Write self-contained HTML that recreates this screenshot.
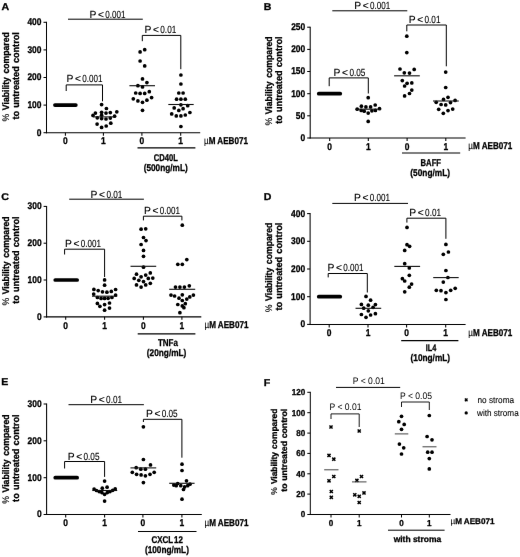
<!DOCTYPE html>
<html><head><meta charset="utf-8"><title>Figure</title>
<style>html,body{margin:0;padding:0;background:#fff;}svg{display:block;will-change:transform;}text{text-rendering:geometricPrecision;font-family:'Liberation Sans', sans-serif;fill:#000;}text[font-weight=bold]{stroke:#000;stroke-width:0.3px;}</style>
</head><body>
<svg width="520" height="557" viewBox="0 0 520 557">
<rect width="520" height="557" fill="#fff"/>
<defs><filter id="soft" x="0" y="0" width="520" height="557" filterUnits="userSpaceOnUse"><feConvolveMatrix order="3" kernelMatrix="0 0.03 0 0.03 0.88 0.03 0 0.03 0" divisor="1" edgeMode="duplicate" preserveAlpha="false"/></filter></defs>
<g filter="url(#soft)">
<!-- Panel A -->
<text transform="translate(1.5,10.2) scale(1.08,1)" font-size="9.8" font-weight="bold" text-anchor="start">A</text>
<line x1="46.5" y1="21.775000000000002" x2="46.5" y2="133.225" stroke="#000" stroke-width="1.05" stroke-linecap="butt"/>
<line x1="45.975" y1="132.7" x2="200.2" y2="132.7" stroke="#000" stroke-width="1.05" stroke-linecap="butt"/>
<line x1="43.5" y1="132.7" x2="46.5" y2="132.7" stroke="#000" stroke-width="1.05" stroke-linecap="butt"/>
<text transform="translate(41.5,135.6) scale(0.86,1)" font-size="9.8" font-weight="bold" text-anchor="end">0</text>
<line x1="43.5" y1="105.1" x2="46.5" y2="105.1" stroke="#000" stroke-width="1.05" stroke-linecap="butt"/>
<text transform="translate(41.5,108.0) scale(0.86,1)" font-size="9.8" font-weight="bold" text-anchor="end">100</text>
<line x1="43.5" y1="77.5" x2="46.5" y2="77.5" stroke="#000" stroke-width="1.05" stroke-linecap="butt"/>
<text transform="translate(41.5,80.4) scale(0.86,1)" font-size="9.8" font-weight="bold" text-anchor="end">200</text>
<line x1="43.5" y1="49.9" x2="46.5" y2="49.9" stroke="#000" stroke-width="1.05" stroke-linecap="butt"/>
<text transform="translate(41.5,52.8) scale(0.86,1)" font-size="9.8" font-weight="bold" text-anchor="end">300</text>
<line x1="43.5" y1="22.3" x2="46.5" y2="22.3" stroke="#000" stroke-width="1.05" stroke-linecap="butt"/>
<text transform="translate(41.5,25.2) scale(0.86,1)" font-size="9.8" font-weight="bold" text-anchor="end">400</text>
<line x1="65.4" y1="132.7" x2="65.4" y2="135.7" stroke="#000" stroke-width="1.05" stroke-linecap="butt"/>
<text transform="translate(65.4,144.39999999999998) scale(0.86,1)" font-size="9.8" font-weight="bold" text-anchor="middle">0</text>
<line x1="103.4" y1="132.7" x2="103.4" y2="135.7" stroke="#000" stroke-width="1.05" stroke-linecap="butt"/>
<text transform="translate(103.4,144.39999999999998) scale(0.86,1)" font-size="9.8" font-weight="bold" text-anchor="middle">1</text>
<line x1="141.9" y1="132.7" x2="141.9" y2="135.7" stroke="#000" stroke-width="1.05" stroke-linecap="butt"/>
<text transform="translate(141.9,144.39999999999998) scale(0.86,1)" font-size="9.8" font-weight="bold" text-anchor="middle">0</text>
<line x1="180.7" y1="132.7" x2="180.7" y2="135.7" stroke="#000" stroke-width="1.05" stroke-linecap="butt"/>
<text transform="translate(180.7,144.39999999999998) scale(0.86,1)" font-size="9.8" font-weight="bold" text-anchor="middle">1</text>
<text transform="translate(8.6,121.4) rotate(-90)" font-size="9.5" font-weight="bold" word-spacing="1.3" text-anchor="start" textLength="89.2" lengthAdjust="spacingAndGlyphs"><tspan font-weight="normal" stroke-width="0.12">%</tspan> Viability compared</text>
<text transform="translate(18.9,119.6) rotate(-90)" font-size="9.5" font-weight="bold" word-spacing="0.7" text-anchor="start" textLength="87.4" lengthAdjust="spacingAndGlyphs">to untreated control</text>
<line x1="54.95000000000001" y1="105.1" x2="75.85000000000001" y2="105.1" stroke="#000" stroke-width="3.7" stroke-linecap="round"/>
<g fill="#000"><circle cx="101.6" cy="104.6" r="1.85"/><circle cx="106.4" cy="108.5" r="1.85"/><circle cx="116.8" cy="111.8" r="1.85"/><circle cx="101.6" cy="112.3" r="1.85"/><circle cx="106" cy="113.1" r="1.85"/><circle cx="110.3" cy="112.6" r="1.85"/><circle cx="95.4" cy="113.1" r="1.85"/><circle cx="93" cy="115.4" r="1.85"/><circle cx="101.6" cy="115.2" r="1.85"/><circle cx="114.6" cy="116.2" r="1.85"/><circle cx="97.3" cy="117.8" r="1.85"/><circle cx="101.6" cy="118.6" r="1.85"/><circle cx="106" cy="119" r="1.85"/><circle cx="110.3" cy="118.1" r="1.85"/><circle cx="110.8" cy="123.2" r="1.85"/><circle cx="97.1" cy="124.1" r="1.85"/><circle cx="106.2" cy="126" r="1.85"/><circle cx="101.6" cy="127.4" r="1.85"/></g>
<line x1="93" y1="116.9" x2="114" y2="116.9" stroke="#111" stroke-width="1.1"/>
<g fill="#000"><circle cx="144.7" cy="49.7" r="1.85"/><circle cx="140.1" cy="51.9" r="1.85"/><circle cx="140.1" cy="61" r="1.85"/><circle cx="144.7" cy="65.9" r="1.85"/><circle cx="142.5" cy="78.9" r="1.85"/><circle cx="146.9" cy="82.6" r="1.85"/><circle cx="137.9" cy="85.7" r="1.85"/><circle cx="142.5" cy="86.9" r="1.85"/><circle cx="149.3" cy="91.7" r="1.85"/><circle cx="135.7" cy="93" r="1.85"/><circle cx="140.1" cy="93.4" r="1.85"/><circle cx="144.7" cy="93.4" r="1.85"/><circle cx="151.6" cy="97.6" r="1.85"/><circle cx="133.3" cy="98.8" r="1.85"/><circle cx="146.9" cy="100.2" r="1.85"/><circle cx="137.9" cy="100.9" r="1.85"/><circle cx="142.5" cy="102.3" r="1.85"/><circle cx="142.5" cy="110.3" r="1.85"/></g>
<line x1="129.4" y1="85.7" x2="155" y2="85.7" stroke="#111" stroke-width="1.1"/>
<g fill="#000"><circle cx="180.9" cy="75" r="1.85"/><circle cx="180.9" cy="84" r="1.85"/><circle cx="178.8" cy="93" r="1.85"/><circle cx="183.1" cy="93" r="1.85"/><circle cx="176.6" cy="99.2" r="1.85"/><circle cx="180.9" cy="99.2" r="1.85"/><circle cx="185.3" cy="99.2" r="1.85"/><circle cx="180.9" cy="104.8" r="1.85"/><circle cx="187.7" cy="105.7" r="1.85"/><circle cx="174.2" cy="107.9" r="1.85"/><circle cx="183.1" cy="108.7" r="1.85"/><circle cx="178.8" cy="110.4" r="1.85"/><circle cx="189.9" cy="112.5" r="1.85"/><circle cx="171.7" cy="113.9" r="1.85"/><circle cx="185.3" cy="115" r="1.85"/><circle cx="176.3" cy="115.9" r="1.85"/><circle cx="180.9" cy="115.9" r="1.85"/><circle cx="180.9" cy="126.5" r="1.85"/></g>
<line x1="168.3" y1="104.5" x2="193.7" y2="104.5" stroke="#111" stroke-width="1.1"/>
<line x1="68" y1="19.2" x2="142.8" y2="19.2" stroke="#000" stroke-width="1.0" stroke-linecap="butt"/>
<text y="18.2" font-size="10.3" text-anchor="start" stroke="#000" stroke-width="0.12"><tspan x="89.5">P</tspan><tspan x="98.0">&lt;</tspan><tspan x="105.3" textLength="20.2" lengthAdjust="spacingAndGlyphs">0.001</tspan></text>
<path d="M66.2 91L66.2 84.9L102.5 84.9L102.5 101.3" stroke="#000" stroke-width="1.0" fill="none"/>
<text y="82.3" font-size="10.3" text-anchor="start" stroke="#000" stroke-width="0.12"><tspan x="66.4">P</tspan><tspan x="74.9">&lt;</tspan><tspan x="82.2" textLength="20.2" lengthAdjust="spacingAndGlyphs">0.001</tspan></text>
<path d="M142.3 41.2L142.3 35.4L180.8 35.4L180.8 69.2" stroke="#000" stroke-width="1.0" fill="none"/>
<text y="33.3" font-size="10.3" text-anchor="start" stroke="#000" stroke-width="0.12"><tspan x="144.5">P</tspan><tspan x="153.0">&lt;</tspan><tspan x="160.3" textLength="16.0" lengthAdjust="spacingAndGlyphs">0.01</tspan></text>
<text x="204" y="143.6" font-size="9.8" font-weight="bold" text-anchor="start" textLength="44" lengthAdjust="spacingAndGlyphs"><tspan font-weight="normal" stroke-width="0.1">&#181;</tspan>M AEB071</text>
<line x1="137.5" y1="147.9" x2="195.4" y2="147.9" stroke="#000" stroke-width="1.2" stroke-linecap="butt"/>
<text x="165.8" y="160.8" font-size="9.8" font-weight="bold" text-anchor="middle" textLength="24" lengthAdjust="spacingAndGlyphs">CD40L</text>
<text x="165.7" y="171.1" font-size="9.8" font-weight="bold" text-anchor="middle" textLength="44" lengthAdjust="spacingAndGlyphs">(500ng/mL)</text>
<!-- Panel B -->
<text transform="translate(263.8,10.2) scale(1.08,1)" font-size="9.8" font-weight="bold" text-anchor="start">B</text>
<line x1="310.2" y1="26.675" x2="310.2" y2="138.525" stroke="#000" stroke-width="1.05" stroke-linecap="butt"/>
<line x1="309.675" y1="138.0" x2="465.6" y2="138.0" stroke="#000" stroke-width="1.05" stroke-linecap="butt"/>
<line x1="307.2" y1="138.0" x2="310.2" y2="138.0" stroke="#000" stroke-width="1.05" stroke-linecap="butt"/>
<text transform="translate(305.2,140.9) scale(0.86,1)" font-size="9.8" font-weight="bold" text-anchor="end">0</text>
<line x1="307.2" y1="115.8" x2="310.2" y2="115.8" stroke="#000" stroke-width="1.05" stroke-linecap="butt"/>
<text transform="translate(305.2,118.7) scale(0.86,1)" font-size="9.8" font-weight="bold" text-anchor="end">50</text>
<line x1="307.2" y1="93.7" x2="310.2" y2="93.7" stroke="#000" stroke-width="1.05" stroke-linecap="butt"/>
<text transform="translate(305.2,96.60000000000001) scale(0.86,1)" font-size="9.8" font-weight="bold" text-anchor="end">100</text>
<line x1="307.2" y1="71.5" x2="310.2" y2="71.5" stroke="#000" stroke-width="1.05" stroke-linecap="butt"/>
<text transform="translate(305.2,74.4) scale(0.86,1)" font-size="9.8" font-weight="bold" text-anchor="end">150</text>
<line x1="307.2" y1="49.4" x2="310.2" y2="49.4" stroke="#000" stroke-width="1.05" stroke-linecap="butt"/>
<text transform="translate(305.2,52.3) scale(0.86,1)" font-size="9.8" font-weight="bold" text-anchor="end">200</text>
<line x1="307.2" y1="27.2" x2="310.2" y2="27.2" stroke="#000" stroke-width="1.05" stroke-linecap="butt"/>
<text transform="translate(305.2,30.099999999999998) scale(0.86,1)" font-size="9.8" font-weight="bold" text-anchor="end">250</text>
<line x1="329.7" y1="138.0" x2="329.7" y2="141.0" stroke="#000" stroke-width="1.05" stroke-linecap="butt"/>
<text transform="translate(329.7,149.7) scale(0.86,1)" font-size="9.8" font-weight="bold" text-anchor="middle">0</text>
<line x1="368.3" y1="138.0" x2="368.3" y2="141.0" stroke="#000" stroke-width="1.05" stroke-linecap="butt"/>
<text transform="translate(368.3,149.7) scale(0.86,1)" font-size="9.8" font-weight="bold" text-anchor="middle">1</text>
<line x1="407.1" y1="138.0" x2="407.1" y2="141.0" stroke="#000" stroke-width="1.05" stroke-linecap="butt"/>
<text transform="translate(407.1,149.7) scale(0.86,1)" font-size="9.8" font-weight="bold" text-anchor="middle">0</text>
<line x1="445.8" y1="138.0" x2="445.8" y2="141.0" stroke="#000" stroke-width="1.05" stroke-linecap="butt"/>
<text transform="translate(445.8,149.7) scale(0.86,1)" font-size="9.8" font-weight="bold" text-anchor="middle">1</text>
<text transform="translate(272.0,125.6) rotate(-90)" font-size="9.5" font-weight="bold" word-spacing="1.3" text-anchor="start" textLength="89.2" lengthAdjust="spacingAndGlyphs"><tspan font-weight="normal" stroke-width="0.12">%</tspan> Viability compared</text>
<text transform="translate(281.7,123.8) rotate(-90)" font-size="9.5" font-weight="bold" word-spacing="0.7" text-anchor="start" textLength="87.4" lengthAdjust="spacingAndGlyphs">to untreated control</text>
<line x1="318.75" y1="93.7" x2="340.25" y2="93.7" stroke="#000" stroke-width="3.7" stroke-linecap="round"/>
<g fill="#000"><circle cx="368.2" cy="97.7" r="1.85"/><circle cx="375.2" cy="105" r="1.85"/><circle cx="361.4" cy="106.2" r="1.85"/><circle cx="365.9" cy="106.9" r="1.85"/><circle cx="370.6" cy="106.9" r="1.85"/><circle cx="357.2" cy="109.2" r="1.85"/><circle cx="379.5" cy="108.7" r="1.85"/><circle cx="361.2" cy="110.4" r="1.85"/><circle cx="364.2" cy="111.2" r="1.85"/><circle cx="368.2" cy="113.1" r="1.85"/><circle cx="371.9" cy="110.8" r="1.85"/><circle cx="375.4" cy="110.4" r="1.85"/><circle cx="368.2" cy="121.4" r="1.85"/></g>
<line x1="355.4" y1="109.2" x2="381.2" y2="109.2" stroke="#111" stroke-width="1.1"/>
<g fill="#000"><circle cx="406.8" cy="36.2" r="1.85"/><circle cx="406.8" cy="52.6" r="1.85"/><circle cx="400" cy="69" r="1.85"/><circle cx="414.2" cy="69.4" r="1.85"/><circle cx="404.3" cy="72.8" r="1.85"/><circle cx="409.5" cy="73.1" r="1.85"/><circle cx="402.3" cy="80.6" r="1.85"/><circle cx="411.8" cy="82.9" r="1.85"/><circle cx="407.1" cy="83.3" r="1.85"/><circle cx="404.6" cy="86" r="1.85"/><circle cx="411.8" cy="90.1" r="1.85"/><circle cx="409.5" cy="93.5" r="1.85"/><circle cx="404.6" cy="95.9" r="1.85"/></g>
<line x1="394.1" y1="75.8" x2="419.8" y2="75.8" stroke="#111" stroke-width="1.1"/>
<g fill="#000"><circle cx="445.7" cy="72.1" r="1.85"/><circle cx="445.7" cy="87.5" r="1.85"/><circle cx="448" cy="97.3" r="1.85"/><circle cx="443.5" cy="99.4" r="1.85"/><circle cx="455.1" cy="100.4" r="1.85"/><circle cx="436.2" cy="102.3" r="1.85"/><circle cx="450.5" cy="102.6" r="1.85"/><circle cx="441.1" cy="104.5" r="1.85"/><circle cx="445.7" cy="104.9" r="1.85"/><circle cx="438.7" cy="109.3" r="1.85"/><circle cx="452.7" cy="109.1" r="1.85"/><circle cx="448" cy="110.6" r="1.85"/><circle cx="443.3" cy="113.3" r="1.85"/></g>
<line x1="433" y1="101" x2="458.8" y2="101" stroke="#111" stroke-width="1.1"/>
<line x1="332.3" y1="10.8" x2="407.3" y2="10.8" stroke="#000" stroke-width="1.0" stroke-linecap="butt"/>
<text y="9.2" font-size="10.3" text-anchor="start" stroke="#000" stroke-width="0.12"><tspan x="354.2">P</tspan><tspan x="362.7">&lt;</tspan><tspan x="370.0" textLength="20.2" lengthAdjust="spacingAndGlyphs">0.001</tspan></text>
<path d="M329.2 86.2L329.2 77.9L368.3 77.9L368.3 93.5" stroke="#000" stroke-width="1.0" fill="none"/>
<text y="75.7" font-size="10.3" text-anchor="start" stroke="#000" stroke-width="0.12"><tspan x="333.6">P</tspan><tspan x="342.1">&lt;</tspan><tspan x="349.4" textLength="16.0" lengthAdjust="spacingAndGlyphs">0.05</tspan></text>
<path d="M406.8 31.3L406.8 25L446.3 25L446.3 66.3" stroke="#000" stroke-width="1.0" fill="none"/>
<text y="22.8" font-size="10.3" text-anchor="start" stroke="#000" stroke-width="0.12"><tspan x="408.7">P</tspan><tspan x="417.2">&lt;</tspan><tspan x="424.5" textLength="16.0" lengthAdjust="spacingAndGlyphs">0.01</tspan></text>
<text x="468.3" y="149.3" font-size="9.8" font-weight="bold" text-anchor="start" textLength="44" lengthAdjust="spacingAndGlyphs"><tspan font-weight="normal" stroke-width="0.1">&#181;</tspan>M AEB071</text>
<line x1="402" y1="153" x2="460.2" y2="153" stroke="#000" stroke-width="1.2" stroke-linecap="butt"/>
<text x="430.8" y="166.4" font-size="9.8" font-weight="bold" text-anchor="middle" textLength="20.4" lengthAdjust="spacingAndGlyphs">BAFF</text>
<text x="430.2" y="176.4" font-size="9.8" font-weight="bold" text-anchor="middle" textLength="39.7" lengthAdjust="spacingAndGlyphs">(50ng/mL)</text>
<!-- Panel C -->
<text transform="translate(1.3,199.7) scale(1.08,1)" font-size="9.8" font-weight="bold" text-anchor="start">C</text>
<line x1="46.6" y1="205.875" x2="46.6" y2="317.375" stroke="#000" stroke-width="1.05" stroke-linecap="butt"/>
<line x1="46.075" y1="316.85" x2="201.3" y2="316.85" stroke="#000" stroke-width="1.05" stroke-linecap="butt"/>
<line x1="43.6" y1="316.9" x2="46.6" y2="316.9" stroke="#000" stroke-width="1.05" stroke-linecap="butt"/>
<text transform="translate(41.6,319.79999999999995) scale(0.86,1)" font-size="9.8" font-weight="bold" text-anchor="end">0</text>
<line x1="43.6" y1="280.0" x2="46.6" y2="280.0" stroke="#000" stroke-width="1.05" stroke-linecap="butt"/>
<text transform="translate(41.6,282.9) scale(0.86,1)" font-size="9.8" font-weight="bold" text-anchor="end">100</text>
<line x1="43.6" y1="243.2" x2="46.6" y2="243.2" stroke="#000" stroke-width="1.05" stroke-linecap="butt"/>
<text transform="translate(41.6,246.1) scale(0.86,1)" font-size="9.8" font-weight="bold" text-anchor="end">200</text>
<line x1="43.6" y1="206.4" x2="46.6" y2="206.4" stroke="#000" stroke-width="1.05" stroke-linecap="butt"/>
<text transform="translate(41.6,209.3) scale(0.86,1)" font-size="9.8" font-weight="bold" text-anchor="end">300</text>
<line x1="65.7" y1="316.85" x2="65.7" y2="319.85" stroke="#000" stroke-width="1.05" stroke-linecap="butt"/>
<text transform="translate(65.7,328.55) scale(0.86,1)" font-size="9.8" font-weight="bold" text-anchor="middle">0</text>
<line x1="104.6" y1="316.85" x2="104.6" y2="319.85" stroke="#000" stroke-width="1.05" stroke-linecap="butt"/>
<text transform="translate(104.6,328.55) scale(0.86,1)" font-size="9.8" font-weight="bold" text-anchor="middle">1</text>
<line x1="143.4" y1="316.85" x2="143.4" y2="319.85" stroke="#000" stroke-width="1.05" stroke-linecap="butt"/>
<text transform="translate(143.4,328.55) scale(0.86,1)" font-size="9.8" font-weight="bold" text-anchor="middle">0</text>
<line x1="181.9" y1="316.85" x2="181.9" y2="319.85" stroke="#000" stroke-width="1.05" stroke-linecap="butt"/>
<text transform="translate(181.9,328.55) scale(0.86,1)" font-size="9.8" font-weight="bold" text-anchor="middle">1</text>
<text transform="translate(9.2,305.6) rotate(-90)" font-size="9.5" font-weight="bold" word-spacing="1.3" text-anchor="start" textLength="89.2" lengthAdjust="spacingAndGlyphs"><tspan font-weight="normal" stroke-width="0.12">%</tspan> Viability compared</text>
<text transform="translate(19.1,303.8) rotate(-90)" font-size="9.5" font-weight="bold" word-spacing="0.7" text-anchor="start" textLength="87.4" lengthAdjust="spacingAndGlyphs">to untreated control</text>
<line x1="55.25000000000001" y1="280.0" x2="77.15" y2="280.0" stroke="#000" stroke-width="3.7" stroke-linecap="round"/>
<g fill="#000"><circle cx="104.6" cy="279.9" r="1.85"/><circle cx="104.6" cy="285.2" r="1.85"/><circle cx="93.9" cy="289.4" r="1.85"/><circle cx="115.6" cy="289.5" r="1.85"/><circle cx="98.2" cy="290.6" r="1.85"/><circle cx="111.3" cy="291.4" r="1.85"/><circle cx="102.5" cy="291.8" r="1.85"/><circle cx="106.9" cy="292.2" r="1.85"/><circle cx="93.7" cy="294.1" r="1.85"/><circle cx="115.6" cy="295.1" r="1.85"/><circle cx="97.4" cy="297.5" r="1.85"/><circle cx="101.1" cy="298.4" r="1.85"/><circle cx="104.6" cy="298.4" r="1.85"/><circle cx="108.1" cy="298.3" r="1.85"/><circle cx="111.9" cy="297.5" r="1.85"/><circle cx="109.5" cy="303" r="1.85"/><circle cx="97.4" cy="303.4" r="1.85"/><circle cx="104.6" cy="304.6" r="1.85"/><circle cx="99.9" cy="306.3" r="1.85"/><circle cx="109.5" cy="308.1" r="1.85"/><circle cx="104.6" cy="310.2" r="1.85"/></g>
<line x1="92" y1="296.2" x2="117.2" y2="296.2" stroke="#111" stroke-width="1.1"/>
<g fill="#000"><circle cx="141.1" cy="229.2" r="1.85"/><circle cx="145.7" cy="228.8" r="1.85"/><circle cx="143.5" cy="237.5" r="1.85"/><circle cx="146" cy="240.6" r="1.85"/><circle cx="141.1" cy="244.5" r="1.85"/><circle cx="143.5" cy="250.4" r="1.85"/><circle cx="143.5" cy="256.3" r="1.85"/><circle cx="143.5" cy="267.2" r="1.85"/><circle cx="150.3" cy="272.9" r="1.85"/><circle cx="136.5" cy="274.2" r="1.85"/><circle cx="145.7" cy="275.1" r="1.85"/><circle cx="141.1" cy="276.8" r="1.85"/><circle cx="134.2" cy="278.4" r="1.85"/><circle cx="148.3" cy="278.4" r="1.85"/><circle cx="152.8" cy="278.1" r="1.85"/><circle cx="138.8" cy="280.3" r="1.85"/><circle cx="143.5" cy="281.6" r="1.85"/><circle cx="150.3" cy="283.3" r="1.85"/><circle cx="136.5" cy="284.9" r="1.85"/><circle cx="145.7" cy="284.9" r="1.85"/><circle cx="141.1" cy="287.1" r="1.85"/></g>
<line x1="130.5" y1="266.3" x2="156.2" y2="266.3" stroke="#111" stroke-width="1.1"/>
<g fill="#000"><circle cx="182.3" cy="225.2" r="1.85"/><circle cx="186.8" cy="259.6" r="1.85"/><circle cx="177.8" cy="264.3" r="1.85"/><circle cx="182.3" cy="264.3" r="1.85"/><circle cx="189.3" cy="285.8" r="1.85"/><circle cx="175.5" cy="287.1" r="1.85"/><circle cx="179.9" cy="287.1" r="1.85"/><circle cx="184.4" cy="287.1" r="1.85"/><circle cx="171" cy="295.1" r="1.85"/><circle cx="174.6" cy="296" r="1.85"/><circle cx="182.3" cy="294.8" r="1.85"/><circle cx="193.4" cy="295.1" r="1.85"/><circle cx="189.8" cy="296.9" r="1.85"/><circle cx="179" cy="298.2" r="1.85"/><circle cx="186.8" cy="299.1" r="1.85"/><circle cx="182.3" cy="300.5" r="1.85"/><circle cx="177.8" cy="304.5" r="1.85"/><circle cx="185.3" cy="303.7" r="1.85"/><circle cx="182.3" cy="305.9" r="1.85"/><circle cx="183.9" cy="307.7" r="1.85"/><circle cx="179.9" cy="312.7" r="1.85"/></g>
<line x1="169.2" y1="289.3" x2="195.2" y2="289.3" stroke="#111" stroke-width="1.1"/>
<line x1="69.2" y1="199.2" x2="143.9" y2="199.2" stroke="#000" stroke-width="1.0" stroke-linecap="butt"/>
<text y="198" font-size="10.3" text-anchor="start" stroke="#000" stroke-width="0.12"><tspan x="90.6">P</tspan><tspan x="99.1">&lt;</tspan><tspan x="106.4" textLength="16.0" lengthAdjust="spacingAndGlyphs">0.01</tspan></text>
<path d="M64.6 254.5L64.6 249.2L104.6 249.2L104.6 277" stroke="#000" stroke-width="1.0" fill="none"/>
<text y="247.3" font-size="10.3" text-anchor="start" stroke="#000" stroke-width="0.12"><tspan x="65.0">P</tspan><tspan x="73.5">&lt;</tspan><tspan x="80.8" textLength="20.2" lengthAdjust="spacingAndGlyphs">0.001</tspan></text>
<path d="M143.4 220.4L143.4 216.2L181.9 216.2L181.9 220.4" stroke="#000" stroke-width="1.0" fill="none"/>
<text y="213.6" font-size="10.3" text-anchor="start" stroke="#000" stroke-width="0.12"><tspan x="144.0">P</tspan><tspan x="152.5">&lt;</tspan><tspan x="159.8" textLength="20.2" lengthAdjust="spacingAndGlyphs">0.001</tspan></text>
<text x="204.5" y="328" font-size="9.8" font-weight="bold" text-anchor="start" textLength="44" lengthAdjust="spacingAndGlyphs"><tspan font-weight="normal" stroke-width="0.1">&#181;</tspan>M AEB071</text>
<line x1="137.7" y1="333.8" x2="195.4" y2="333.8" stroke="#000" stroke-width="1.2" stroke-linecap="butt"/>
<text x="167.9" y="346.1" font-size="9.8" font-weight="bold" text-anchor="middle" textLength="20" lengthAdjust="spacingAndGlyphs">TNFa</text>
<text x="166.6" y="355.7" font-size="9.8" font-weight="bold" text-anchor="middle" textLength="39.5" lengthAdjust="spacingAndGlyphs">(20ng/mL)</text>
<!-- Panel D -->
<text transform="translate(263.8,199.7) scale(1.08,1)" font-size="9.8" font-weight="bold" text-anchor="start">D</text>
<line x1="310.1" y1="213.075" x2="310.1" y2="324.92499999999995" stroke="#000" stroke-width="1.05" stroke-linecap="butt"/>
<line x1="309.57500000000005" y1="324.4" x2="465.6" y2="324.4" stroke="#000" stroke-width="1.05" stroke-linecap="butt"/>
<line x1="307.1" y1="324.4" x2="310.1" y2="324.4" stroke="#000" stroke-width="1.05" stroke-linecap="butt"/>
<text transform="translate(305.1,327.29999999999995) scale(0.86,1)" font-size="9.8" font-weight="bold" text-anchor="end">0</text>
<line x1="307.1" y1="296.7" x2="310.1" y2="296.7" stroke="#000" stroke-width="1.05" stroke-linecap="butt"/>
<text transform="translate(305.1,299.59999999999997) scale(0.86,1)" font-size="9.8" font-weight="bold" text-anchor="end">100</text>
<line x1="307.1" y1="269.0" x2="310.1" y2="269.0" stroke="#000" stroke-width="1.05" stroke-linecap="butt"/>
<text transform="translate(305.1,271.9) scale(0.86,1)" font-size="9.8" font-weight="bold" text-anchor="end">200</text>
<line x1="307.1" y1="241.3" x2="310.1" y2="241.3" stroke="#000" stroke-width="1.05" stroke-linecap="butt"/>
<text transform="translate(305.1,244.20000000000002) scale(0.86,1)" font-size="9.8" font-weight="bold" text-anchor="end">300</text>
<line x1="307.1" y1="213.6" x2="310.1" y2="213.6" stroke="#000" stroke-width="1.05" stroke-linecap="butt"/>
<text transform="translate(305.1,216.5) scale(0.86,1)" font-size="9.8" font-weight="bold" text-anchor="end">400</text>
<line x1="329.2" y1="324.4" x2="329.2" y2="327.4" stroke="#000" stroke-width="1.05" stroke-linecap="butt"/>
<text transform="translate(329.2,336.09999999999997) scale(0.86,1)" font-size="9.8" font-weight="bold" text-anchor="middle">0</text>
<line x1="368" y1="324.4" x2="368" y2="327.4" stroke="#000" stroke-width="1.05" stroke-linecap="butt"/>
<text transform="translate(368,336.09999999999997) scale(0.86,1)" font-size="9.8" font-weight="bold" text-anchor="middle">1</text>
<line x1="406.6" y1="324.4" x2="406.6" y2="327.4" stroke="#000" stroke-width="1.05" stroke-linecap="butt"/>
<text transform="translate(406.6,336.09999999999997) scale(0.86,1)" font-size="9.8" font-weight="bold" text-anchor="middle">0</text>
<line x1="445.7" y1="324.4" x2="445.7" y2="327.4" stroke="#000" stroke-width="1.05" stroke-linecap="butt"/>
<text transform="translate(445.7,336.09999999999997) scale(0.86,1)" font-size="9.8" font-weight="bold" text-anchor="middle">1</text>
<text transform="translate(272.0,312.2) rotate(-90)" font-size="9.5" font-weight="bold" word-spacing="1.3" text-anchor="start" textLength="89.6" lengthAdjust="spacingAndGlyphs"><tspan font-weight="normal" stroke-width="0.12">%</tspan> Viability compared</text>
<text transform="translate(281.7,310.6) rotate(-90)" font-size="9.5" font-weight="bold" word-spacing="0.7" text-anchor="start" textLength="88" lengthAdjust="spacingAndGlyphs">to untreated control</text>
<line x1="318.75" y1="296.7" x2="340.25" y2="296.7" stroke="#000" stroke-width="3.7" stroke-linecap="round"/>
<g fill="#000"><circle cx="366" cy="296.4" r="1.85"/><circle cx="370.6" cy="300.2" r="1.85"/><circle cx="361.4" cy="304.4" r="1.85"/><circle cx="368.3" cy="305.2" r="1.85"/><circle cx="375.4" cy="304.6" r="1.85"/><circle cx="363.7" cy="308.2" r="1.85"/><circle cx="373.1" cy="307.3" r="1.85"/><circle cx="368.3" cy="310.8" r="1.85"/><circle cx="361.4" cy="314.5" r="1.85"/><circle cx="375.4" cy="313.7" r="1.85"/><circle cx="370.6" cy="315" r="1.85"/><circle cx="366" cy="317.3" r="1.85"/></g>
<line x1="355.5" y1="308.3" x2="381.2" y2="308.3" stroke="#111" stroke-width="1.1"/>
<g fill="#000"><circle cx="407" cy="227.4" r="1.85"/><circle cx="407" cy="244.7" r="1.85"/><circle cx="409.6" cy="246.3" r="1.85"/><circle cx="404.7" cy="250.4" r="1.85"/><circle cx="404.7" cy="263.7" r="1.85"/><circle cx="409.3" cy="267.9" r="1.85"/><circle cx="409.3" cy="275.3" r="1.85"/><circle cx="402.4" cy="278.7" r="1.85"/><circle cx="404.7" cy="281" r="1.85"/><circle cx="411.6" cy="284.1" r="1.85"/><circle cx="409.3" cy="287.2" r="1.85"/><circle cx="404.7" cy="291.8" r="1.85"/></g>
<line x1="394.3" y1="266.4" x2="420.1" y2="266.4" stroke="#111" stroke-width="1.1"/>
<g fill="#000"><circle cx="445.9" cy="244.4" r="1.85"/><circle cx="448.4" cy="252" r="1.85"/><circle cx="443.3" cy="254.3" r="1.85"/><circle cx="445.9" cy="270.5" r="1.85"/><circle cx="447.9" cy="277.5" r="1.85"/><circle cx="443.3" cy="282.1" r="1.85"/><circle cx="436.3" cy="290.3" r="1.85"/><circle cx="441" cy="290.7" r="1.85"/><circle cx="450.7" cy="290.3" r="1.85"/><circle cx="455.2" cy="288.3" r="1.85"/><circle cx="445.9" cy="292.6" r="1.85"/><circle cx="445.9" cy="299.5" r="1.85"/></g>
<line x1="433.2" y1="277.6" x2="458.7" y2="277.6" stroke="#111" stroke-width="1.1"/>
<line x1="332.3" y1="203.4" x2="408" y2="203.4" stroke="#000" stroke-width="1.0" stroke-linecap="butt"/>
<text y="201.1" font-size="10.3" text-anchor="start" stroke="#000" stroke-width="0.12"><tspan x="354.0">P</tspan><tspan x="362.5">&lt;</tspan><tspan x="369.8" textLength="20.2" lengthAdjust="spacingAndGlyphs">0.001</tspan></text>
<path d="M328.2 277.4L328.2 273.5L367.3 273.5L367.3 292.5" stroke="#000" stroke-width="1.0" fill="none"/>
<text y="270.6" font-size="10.3" text-anchor="start" stroke="#000" stroke-width="0.12"><tspan x="327.4">P</tspan><tspan x="335.9">&lt;</tspan><tspan x="343.2" textLength="20.2" lengthAdjust="spacingAndGlyphs">0.001</tspan></text>
<path d="M406.9 222.6L406.9 218.2L445.9 218.2L445.9 238.8" stroke="#000" stroke-width="1.0" fill="none"/>
<text y="216.1" font-size="10.3" text-anchor="start" stroke="#000" stroke-width="0.12"><tspan x="409.3">P</tspan><tspan x="417.8">&lt;</tspan><tspan x="425.1" textLength="16.0" lengthAdjust="spacingAndGlyphs">0.01</tspan></text>
<text x="468.3" y="335.8" font-size="9.8" font-weight="bold" text-anchor="start" textLength="44" lengthAdjust="spacingAndGlyphs"><tspan font-weight="normal" stroke-width="0.1">&#181;</tspan>M AEB071</text>
<line x1="401.2" y1="340.6" x2="458.4" y2="340.6" stroke="#000" stroke-width="1.2" stroke-linecap="butt"/>
<text x="431" y="350.7" font-size="9.5" font-weight="bold" text-anchor="middle" textLength="10.6" lengthAdjust="spacingAndGlyphs">IL4</text>
<text x="430.3" y="361.2" font-size="9.8" font-weight="bold" text-anchor="middle" textLength="39.5" lengthAdjust="spacingAndGlyphs">(10ng/mL)</text>
<!-- Panel E -->
<text transform="translate(1.3,385.4) scale(1.08,1)" font-size="9.8" font-weight="bold" text-anchor="start">E</text>
<line x1="46.6" y1="403.475" x2="46.6" y2="515.025" stroke="#000" stroke-width="1.05" stroke-linecap="butt"/>
<line x1="46.075" y1="514.5" x2="201.8" y2="514.5" stroke="#000" stroke-width="1.05" stroke-linecap="butt"/>
<line x1="43.6" y1="514.5" x2="46.6" y2="514.5" stroke="#000" stroke-width="1.05" stroke-linecap="butt"/>
<text transform="translate(41.6,517.4) scale(0.86,1)" font-size="9.8" font-weight="bold" text-anchor="end">0</text>
<line x1="43.6" y1="477.7" x2="46.6" y2="477.7" stroke="#000" stroke-width="1.05" stroke-linecap="butt"/>
<text transform="translate(41.6,480.59999999999997) scale(0.86,1)" font-size="9.8" font-weight="bold" text-anchor="end">100</text>
<line x1="43.6" y1="440.8" x2="46.6" y2="440.8" stroke="#000" stroke-width="1.05" stroke-linecap="butt"/>
<text transform="translate(41.6,443.7) scale(0.86,1)" font-size="9.8" font-weight="bold" text-anchor="end">200</text>
<line x1="43.6" y1="404.0" x2="46.6" y2="404.0" stroke="#000" stroke-width="1.05" stroke-linecap="butt"/>
<text transform="translate(41.6,406.9) scale(0.86,1)" font-size="9.8" font-weight="bold" text-anchor="end">300</text>
<line x1="65.7" y1="514.5" x2="65.7" y2="517.5" stroke="#000" stroke-width="1.05" stroke-linecap="butt"/>
<text transform="translate(65.7,526.2) scale(0.86,1)" font-size="9.8" font-weight="bold" text-anchor="middle">0</text>
<line x1="104.6" y1="514.5" x2="104.6" y2="517.5" stroke="#000" stroke-width="1.05" stroke-linecap="butt"/>
<text transform="translate(104.6,526.2) scale(0.86,1)" font-size="9.8" font-weight="bold" text-anchor="middle">1</text>
<line x1="142.9" y1="514.5" x2="142.9" y2="517.5" stroke="#000" stroke-width="1.05" stroke-linecap="butt"/>
<text transform="translate(142.9,526.2) scale(0.86,1)" font-size="9.8" font-weight="bold" text-anchor="middle">0</text>
<line x1="181.9" y1="514.5" x2="181.9" y2="517.5" stroke="#000" stroke-width="1.05" stroke-linecap="butt"/>
<text transform="translate(181.9,526.2) scale(0.86,1)" font-size="9.8" font-weight="bold" text-anchor="middle">1</text>
<text transform="translate(9,503.7) rotate(-90)" font-size="9.5" font-weight="bold" word-spacing="1.3" text-anchor="start" textLength="89.2" lengthAdjust="spacingAndGlyphs"><tspan font-weight="normal" stroke-width="0.12">%</tspan> Viability compared</text>
<text transform="translate(18.9,501.9) rotate(-90)" font-size="9.5" font-weight="bold" word-spacing="0.7" text-anchor="start" textLength="87.4" lengthAdjust="spacingAndGlyphs">to untreated control</text>
<line x1="55.25000000000001" y1="477.7" x2="77.15" y2="477.7" stroke="#000" stroke-width="3.7" stroke-linecap="round"/>
<g fill="#000"><circle cx="104.6" cy="481.1" r="1.85"/><circle cx="107.1" cy="487.2" r="1.85"/><circle cx="102.3" cy="488.2" r="1.85"/><circle cx="94.1" cy="489.1" r="1.85"/><circle cx="115.2" cy="488.9" r="1.85"/><circle cx="96.5" cy="490.5" r="1.85"/><circle cx="112.7" cy="490.3" r="1.85"/><circle cx="99.2" cy="491.6" r="1.85"/><circle cx="110" cy="491.6" r="1.85"/><circle cx="101.9" cy="492.6" r="1.85"/><circle cx="107.3" cy="492.6" r="1.85"/><circle cx="104.6" cy="494.3" r="1.85"/><circle cx="104.6" cy="501.1" r="1.85"/></g>
<line x1="92.3" y1="490.5" x2="117.2" y2="490.5" stroke="#111" stroke-width="1.1"/>
<g fill="#000"><circle cx="143.4" cy="426.8" r="1.85"/><circle cx="143.4" cy="459.5" r="1.85"/><circle cx="150.5" cy="464.9" r="1.85"/><circle cx="136.2" cy="467.7" r="1.85"/><circle cx="140.8" cy="469.2" r="1.85"/><circle cx="145.4" cy="469.2" r="1.85"/><circle cx="132.3" cy="472.3" r="1.85"/><circle cx="154.2" cy="472.3" r="1.85"/><circle cx="136.6" cy="474.3" r="1.85"/><circle cx="141.1" cy="474.9" r="1.85"/><circle cx="145.4" cy="475.8" r="1.85"/><circle cx="150" cy="474.3" r="1.85"/><circle cx="143.4" cy="482.6" r="1.85"/></g>
<line x1="130.5" y1="467.9" x2="156.2" y2="467.9" stroke="#111" stroke-width="1.1"/>
<g fill="#000"><circle cx="182" cy="464.2" r="1.85"/><circle cx="182" cy="470.5" r="1.85"/><circle cx="186.5" cy="480.8" r="1.85"/><circle cx="177.7" cy="483.5" r="1.85"/><circle cx="190" cy="484.2" r="1.85"/><circle cx="173.8" cy="485.1" r="1.85"/><circle cx="180.8" cy="485.7" r="1.85"/><circle cx="187.7" cy="485.7" r="1.85"/><circle cx="176.2" cy="485.7" r="1.85"/><circle cx="184.6" cy="486.9" r="1.85"/><circle cx="183.5" cy="489.5" r="1.85"/><circle cx="182" cy="499.2" r="1.85"/></g>
<line x1="169.2" y1="483.3" x2="194.6" y2="483.3" stroke="#111" stroke-width="1.1"/>
<line x1="68.5" y1="404.7" x2="143.9" y2="404.7" stroke="#000" stroke-width="1.0" stroke-linecap="butt"/>
<text y="403.3" font-size="10.3" text-anchor="start" stroke="#000" stroke-width="0.12"><tspan x="90.3">P</tspan><tspan x="98.8">&lt;</tspan><tspan x="106.1" textLength="16.0" lengthAdjust="spacingAndGlyphs">0.01</tspan></text>
<path d="M64.6 468.5L64.6 461.5L104.6 461.5L104.6 476.9" stroke="#000" stroke-width="1.0" fill="none"/>
<text y="459.7" font-size="10.3" text-anchor="start" stroke="#000" stroke-width="0.12"><tspan x="67.7">P</tspan><tspan x="76.2">&lt;</tspan><tspan x="83.5" textLength="16.0" lengthAdjust="spacingAndGlyphs">0.05</tspan></text>
<path d="M143.4 422L143.4 419.3L181.9 419.3L181.9 457.7" stroke="#000" stroke-width="1.0" fill="none"/>
<text y="417.4" font-size="10.3" text-anchor="start" stroke="#000" stroke-width="0.12"><tspan x="145.9">P</tspan><tspan x="154.4">&lt;</tspan><tspan x="161.7" textLength="16.0" lengthAdjust="spacingAndGlyphs">0.05</tspan></text>
<text x="204.5" y="525.7" font-size="9.8" font-weight="bold" text-anchor="start" textLength="44" lengthAdjust="spacingAndGlyphs"><tspan font-weight="normal" stroke-width="0.1">&#181;</tspan>M AEB071</text>
<line x1="138" y1="531.5" x2="196.5" y2="531.5" stroke="#000" stroke-width="1.2" stroke-linecap="butt"/>
<text x="167.2" y="543.3" font-size="9.8" font-weight="bold" text-anchor="middle" textLength="31.5" lengthAdjust="spacingAndGlyphs">CXCL<tspan dx="1.2">12</tspan></text>
<text x="166.9" y="553.4" font-size="9.8" font-weight="bold" text-anchor="middle" textLength="44" lengthAdjust="spacingAndGlyphs">(100ng/mL)</text>
<!-- Panel F -->
<text transform="translate(263.8,385.9) scale(1.08,1)" font-size="9.8" font-weight="bold" text-anchor="start">F</text>
<line x1="310.3" y1="391.8" x2="310.3" y2="515.0" stroke="#000" stroke-width="1.0" stroke-linecap="butt"/>
<line x1="309.8" y1="514.5" x2="450.5" y2="514.5" stroke="#000" stroke-width="1.0" stroke-linecap="butt"/>
<line x1="307.3" y1="514.5" x2="310.3" y2="514.5" stroke="#000" stroke-width="1.0" stroke-linecap="butt"/>
<text transform="translate(305.3,517.4) scale(0.94,1)" font-size="8.6" font-weight="bold" text-anchor="end">0</text>
<line x1="307.3" y1="494.1" x2="310.3" y2="494.1" stroke="#000" stroke-width="1.0" stroke-linecap="butt"/>
<text transform="translate(305.3,497.0) scale(0.94,1)" font-size="8.6" font-weight="bold" text-anchor="end">20</text>
<line x1="307.3" y1="473.8" x2="310.3" y2="473.8" stroke="#000" stroke-width="1.0" stroke-linecap="butt"/>
<text transform="translate(305.3,476.7) scale(0.94,1)" font-size="8.6" font-weight="bold" text-anchor="end">40</text>
<line x1="307.3" y1="453.4" x2="310.3" y2="453.4" stroke="#000" stroke-width="1.0" stroke-linecap="butt"/>
<text transform="translate(305.3,456.29999999999995) scale(0.94,1)" font-size="8.6" font-weight="bold" text-anchor="end">60</text>
<line x1="307.3" y1="433.1" x2="310.3" y2="433.1" stroke="#000" stroke-width="1.0" stroke-linecap="butt"/>
<text transform="translate(305.3,436.0) scale(0.94,1)" font-size="8.6" font-weight="bold" text-anchor="end">80</text>
<line x1="307.3" y1="412.7" x2="310.3" y2="412.7" stroke="#000" stroke-width="1.0" stroke-linecap="butt"/>
<text transform="translate(305.3,415.59999999999997) scale(0.94,1)" font-size="8.6" font-weight="bold" text-anchor="end">100</text>
<line x1="307.3" y1="392.3" x2="310.3" y2="392.3" stroke="#000" stroke-width="1.0" stroke-linecap="butt"/>
<text transform="translate(305.3,395.2) scale(0.94,1)" font-size="8.6" font-weight="bold" text-anchor="end">120</text>
<line x1="331" y1="514.5" x2="331" y2="517.5" stroke="#000" stroke-width="1.0" stroke-linecap="butt"/>
<text transform="translate(331,526.2) scale(0.94,1)" font-size="8.6" font-weight="bold" text-anchor="middle">0</text>
<line x1="359.2" y1="514.5" x2="359.2" y2="517.5" stroke="#000" stroke-width="1.0" stroke-linecap="butt"/>
<text transform="translate(359.2,526.2) scale(0.94,1)" font-size="8.6" font-weight="bold" text-anchor="middle">1</text>
<line x1="401.5" y1="514.5" x2="401.5" y2="517.5" stroke="#000" stroke-width="1.0" stroke-linecap="butt"/>
<text transform="translate(401.5,526.2) scale(0.94,1)" font-size="8.6" font-weight="bold" text-anchor="middle">0</text>
<line x1="429.3" y1="514.5" x2="429.3" y2="517.5" stroke="#000" stroke-width="1.0" stroke-linecap="butt"/>
<text transform="translate(429.3,526.2) scale(0.94,1)" font-size="8.6" font-weight="bold" text-anchor="middle">1</text>
<text transform="translate(276.9,494.7) rotate(-90)" font-size="8.5" font-weight="bold" word-spacing="0.8" text-anchor="start" textLength="86" lengthAdjust="spacingAndGlyphs"><tspan font-weight="normal" stroke-width="0.12">%</tspan> Viability compared</text>
<text transform="translate(287.2,491.7) rotate(-90)" font-size="8.5" font-weight="bold" word-spacing="0.2" text-anchor="start" textLength="83" lengthAdjust="spacingAndGlyphs">to untreated control</text>
<path d="M329.45 425.45L332.55 428.55M329.45 428.55L332.55 425.45M327.45 453.84999999999997L330.55 456.95M327.45 456.95L330.55 453.84999999999997M332.25 457.65L335.35 460.75M332.25 460.75L335.35 457.65M332.25 474.95L335.35 478.05M332.25 478.05L335.35 474.95M327.45 479.25L330.55 482.35M327.45 482.35L330.55 479.25M329.75 489.95L332.85 493.05M329.75 493.05L332.85 489.95M329.75 495.75L332.85 498.85M329.75 498.85L332.85 495.75" stroke="#000" stroke-width="1.5" fill="none"/>
<line x1="324.2" y1="469.8" x2="338.5" y2="469.8" stroke="#444" stroke-width="1.0"/>
<path d="M357.65 429.45L360.75 432.55M357.65 432.55L360.75 429.45M359.95 474.95L363.05 478.05M359.95 478.05L363.05 474.95M355.34999999999997 478.84999999999997L358.45 481.95M355.34999999999997 481.95L358.45 478.84999999999997M353.25 493.25L356.35 496.35M353.25 496.35L356.35 493.25M362.45 491.34999999999997L365.55 494.45M362.45 494.45L365.55 491.34999999999997M357.65 494.75L360.75 497.85M357.65 497.85L360.75 494.75M357.65 500.95L360.75 504.05M357.65 504.05L360.75 500.95" stroke="#000" stroke-width="1.5" fill="none"/>
<line x1="352" y1="481.9" x2="366.5" y2="481.9" stroke="#444" stroke-width="1.0"/>
<g fill="#000"><circle cx="401.5" cy="416.3" r="1.85"/><circle cx="398.8" cy="421.7" r="1.85"/><circle cx="404.2" cy="424.4" r="1.85"/><circle cx="401.5" cy="429.3" r="1.85"/><circle cx="399.4" cy="444.1" r="1.85"/><circle cx="403.7" cy="447.8" r="1.85"/><circle cx="401.5" cy="454" r="1.85"/></g>
<line x1="394.8" y1="433.9" x2="408.3" y2="433.9" stroke="#444" stroke-width="1.0"/>
<g fill="#000"><circle cx="429.3" cy="415.5" r="1.85"/><circle cx="427.1" cy="436.5" r="1.85"/><circle cx="432" cy="439.8" r="1.85"/><circle cx="427.7" cy="452.2" r="1.85"/><circle cx="432" cy="452.2" r="1.85"/><circle cx="429.3" cy="458.6" r="1.85"/><circle cx="429.3" cy="468.9" r="1.85"/></g>
<line x1="422.5" y1="446.8" x2="436.5" y2="446.8" stroke="#444" stroke-width="1.0"/>
<line x1="336" y1="387.4" x2="400.2" y2="387.4" stroke="#000" stroke-width="1.0" stroke-linecap="butt"/>
<text x="368.8" y="384" font-size="9.5" font-weight="normal" text-anchor="middle" textLength="32" lengthAdjust="spacingAndGlyphs">P &lt; 0.01</text>
<path d="M331 419L331 413.9L359.2 413.9L359.2 427" stroke="#000" stroke-width="0.9" fill="none"/>
<text x="345.5" y="410" font-size="9.5" font-weight="normal" text-anchor="middle" textLength="32" lengthAdjust="spacingAndGlyphs">P &lt; 0.01</text>
<path d="M401.5 407L401.5 402L429.3 402L429.3 410" stroke="#000" stroke-width="0.9" fill="none"/>
<text x="416" y="398.5" font-size="9.5" font-weight="normal" text-anchor="middle" textLength="32" lengthAdjust="spacingAndGlyphs">P &lt; 0.05</text>
<text x="450.5" y="523.5" font-size="8.3" font-weight="bold" text-anchor="start" textLength="44" lengthAdjust="spacingAndGlyphs"><tspan font-weight="normal" stroke-width="0.1">&#181;</tspan>M AEB071</text>
<line x1="388" y1="530.2" x2="444.6" y2="530.2" stroke="#000" stroke-width="1.0" stroke-linecap="butt"/>
<text x="417.4" y="541.9" font-size="8.5" font-weight="bold" text-anchor="middle" textLength="47.5" lengthAdjust="spacingAndGlyphs">with stroma</text>
<path d="M464.9 398.59999999999997L467.5 401.2M464.9 401.2L467.5 398.59999999999997" stroke="#000" stroke-width="1.4" fill="none"/>
<g fill="#000"><circle cx="466.2" cy="412.9" r="1.65"/></g>
<text x="477.5" y="402.9" font-size="9" font-weight="normal" text-anchor="start" textLength="36.6" lengthAdjust="spacingAndGlyphs" stroke="#000" stroke-width="0.1">no stroma</text>
<text x="477" y="415.7" font-size="9" font-weight="normal" text-anchor="start" textLength="41.7" lengthAdjust="spacingAndGlyphs" stroke="#000" stroke-width="0.1">with stroma</text>
</g>
</svg></body></html>
